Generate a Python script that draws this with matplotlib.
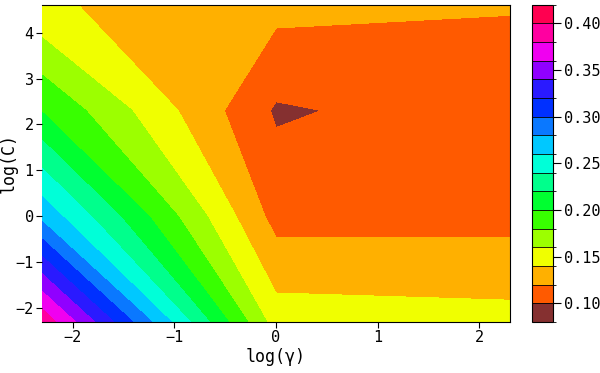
import numpy as np
import matplotlib
matplotlib.use("Agg")
from matplotlib import pyplot as plt
from matplotlib.colors import ListedColormap, BoundaryNorm

# grid of the search: gamma and C, error rate
gamma_vals = [0.1, 1.0, 10.0]
c_vals = [0.1, 1.0, 10.0, 100.0]

# rows follow c_vals, columns follow gamma_vals
err_c01 = [0.395, 0.1504, 0.1469]
err_c1 = [0.274, 0.1124, 0.1133]
err_c10 = [0.199, 0.0976, 0.110]
err_c100 = [0.1425, 0.1263, 0.1211]

levels = [0.08, 0.10, 0.12, 0.14, 0.16, 0.18, 0.20, 0.22, 0.24,
          0.26, 0.28, 0.30, 0.32, 0.34, 0.36, 0.38, 0.40, 0.42]
band_colors = ['#853030', '#ff5a00', '#ffb000', '#f0ff00', '#9cff00',
               '#38ff00', '#00ff30', '#00ff8c', '#00ffd8', '#00c8ff',
               '#0a78ff', '#0030ff', '#2a1aff', '#9000ff', '#f000f0',
               '#ff00a0', '#ff0050']
cbar_ticks = [0.10, 0.15, 0.20, 0.25, 0.30, 0.35, 0.40]

plt.rcParams['font.family'] = ['DejaVu Sans Mono', 'DejaVu Sans']
plt.rcParams['font.size'] = 11

x = np.log(gamma_vals)
y = np.log(c_vals)
z = np.array([err_c01, err_c1, err_c10, err_c100])

cmap = ListedColormap(band_colors)
norm = BoundaryNorm(levels, cmap.N)

fig = plt.figure(figsize=(6.0, 3.73), dpi=100)
ax = fig.add_axes([0.07, 0.137, 0.78, 0.85])
cs = ax.contourf(x, y, z, levels=levels, cmap=cmap, norm=norm)

ax.set_xlim(x[0], x[-1])
ax.set_ylim(y[0], y[-1])
ax.set_xticks([-2, -1, 0, 1, 2])
ax.set_yticks([-2, -1, 0, 1, 2, 3, 4])
ax.tick_params(direction='out', length=4, width=0.8, pad=2, colors='black')
ax.spines['left'].set_visible(False)
ax.set_xlabel('log(γ)', fontsize=12, labelpad=2)
ax.set_ylabel('log(C)', fontsize=12)
ax.yaxis.set_label_coords(-0.052, 0.5)

cax = fig.add_axes([0.887, 0.137, 0.035, 0.85])
cb = fig.colorbar(cs, cax=cax, ticks=cbar_ticks, drawedges=True)
cb.ax.set_yticklabels([f"{t:.2f}" for t in cbar_ticks])
cb.ax.tick_params(direction='out', length=6, width=0.8, pad=2)
cb.dividers.set_linewidth(0.6)
cb.outline.set_linewidth(0.8)

fig.savefig('out.png', dpi=100)
